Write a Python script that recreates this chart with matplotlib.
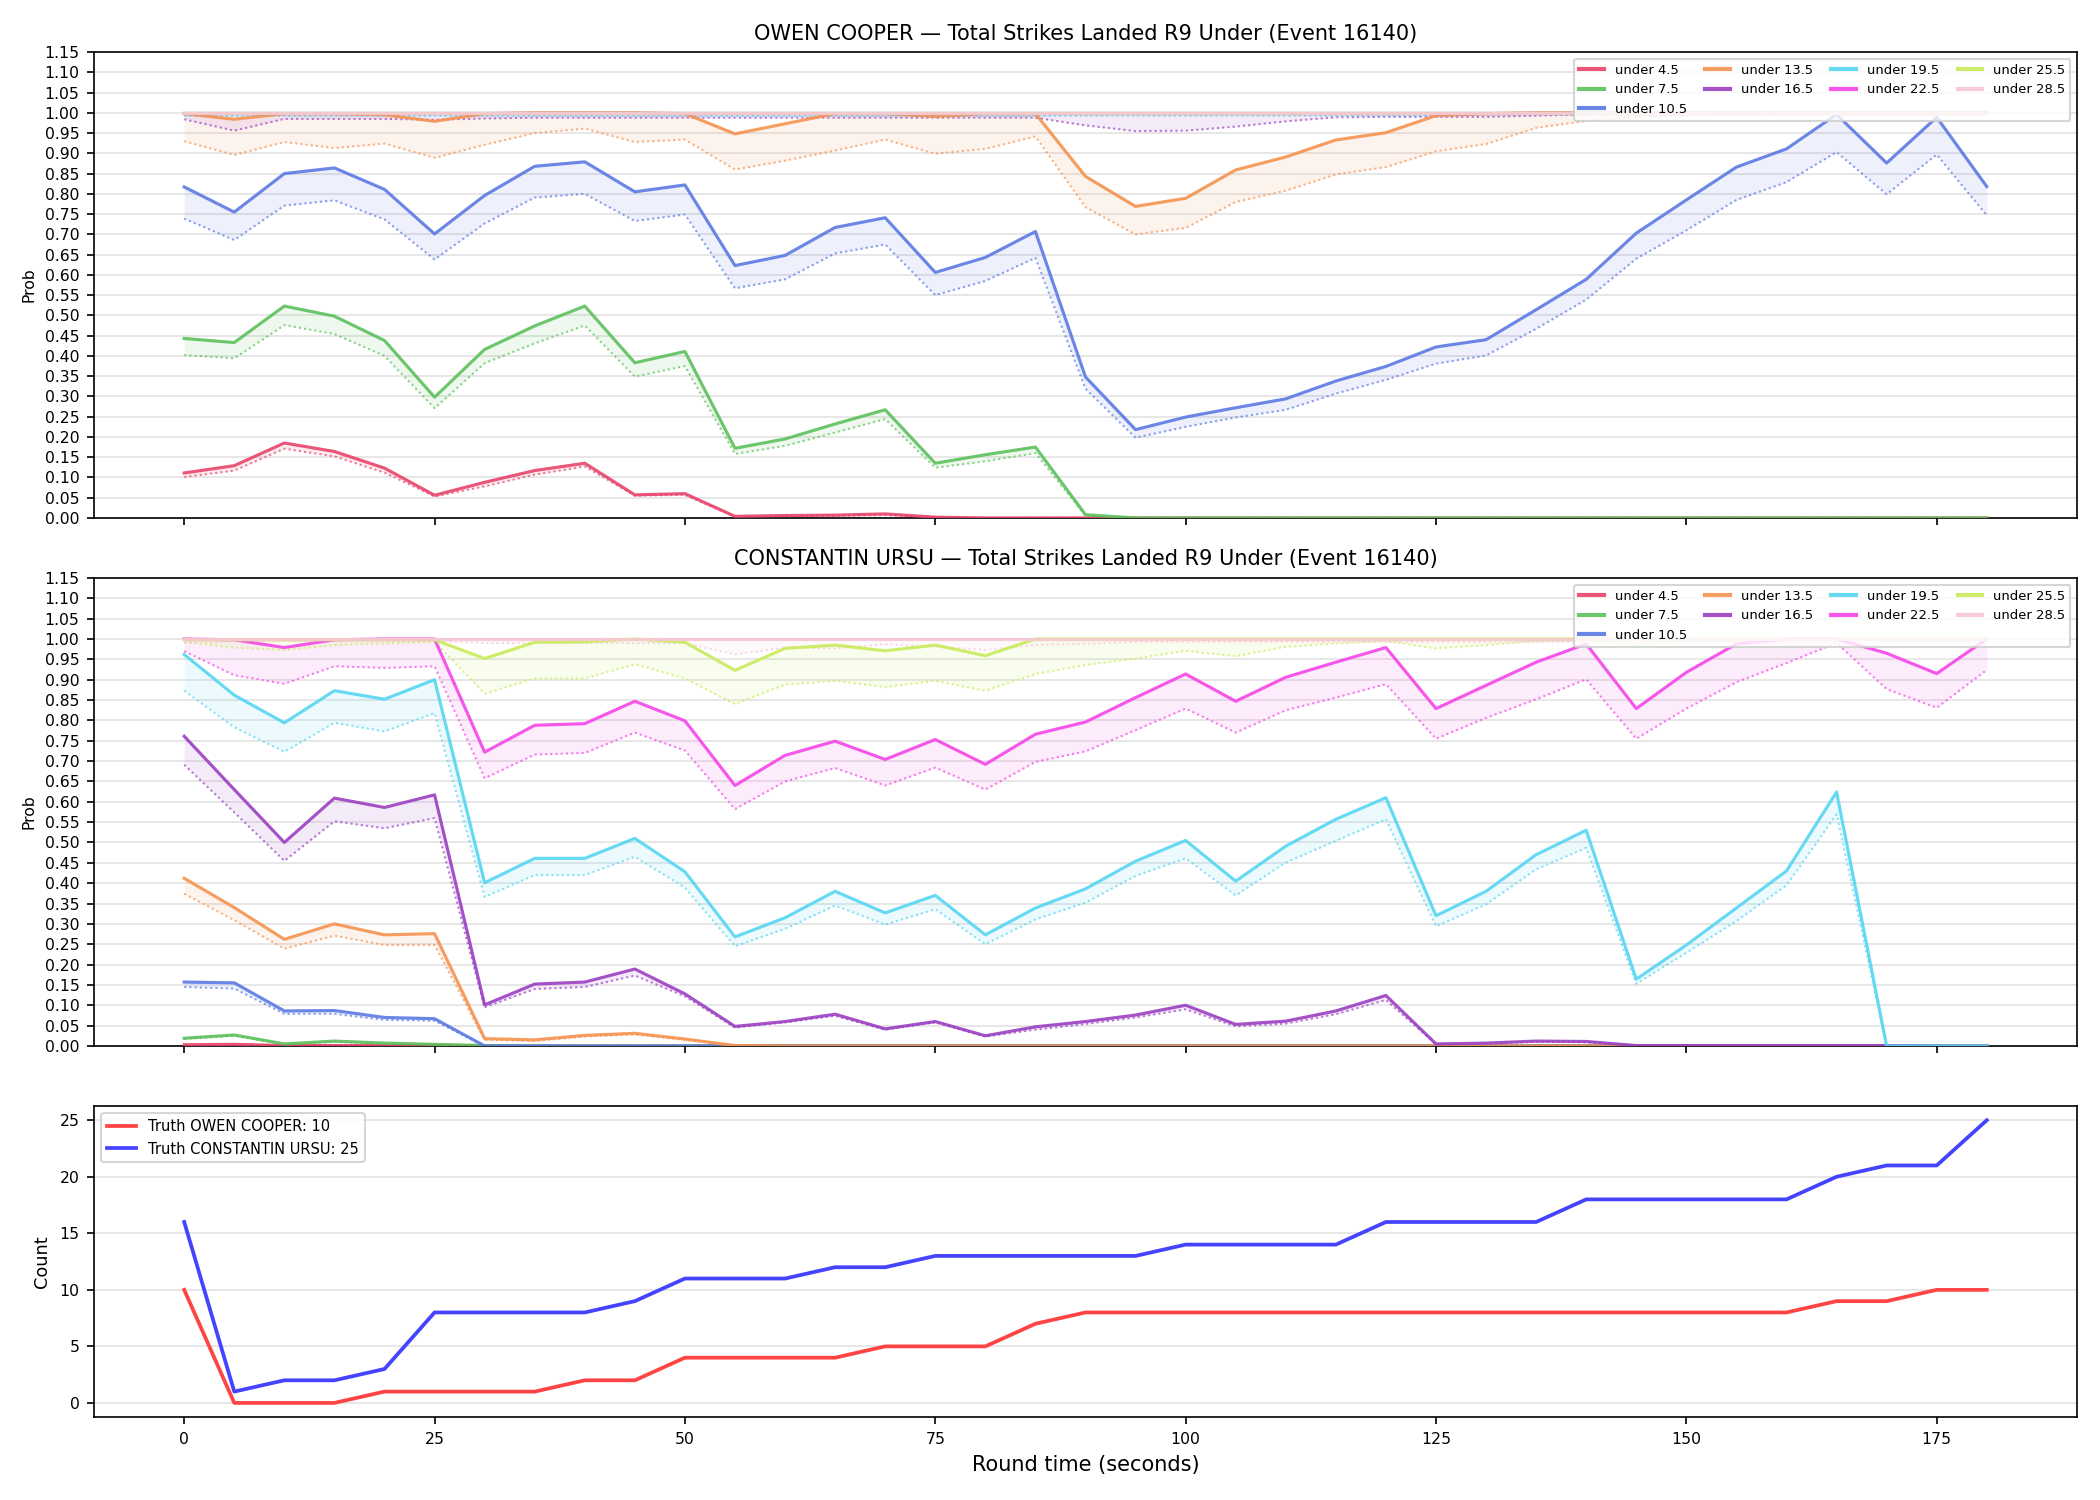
import matplotlib
matplotlib.use("Agg")
import matplotlib.pyplot as plt
import numpy as np

# ---------------- data ----------------
times = list(range(0, 181, 5))
thresholds = ["under 4.5", "under 7.5", "under 10.5", "under 13.5", "under 16.5",
              "under 19.5", "under 22.5", "under 25.5", "under 28.5"]
line_colors = ["#e8436a", "#5cc05c", "#5b79e3", "#f5924f", "#9b3fc2",
               "#55d6f2", "#f545e8", "#c8ec5a", "#f8c6d6"]

Z = [0.0]
# OWEN COOPER: solid (model) and dotted (market)
oc_u45_a = [0.111, 0.129, 0.185, 0.164, 0.123, 0.056, 0.088, 0.117, 0.135, 0.057, 0.060, 0.004, 0.006, 0.007, 0.010, 0.002] + Z * 21
oc_u45_b = [0.101, 0.117, 0.171, 0.152, 0.112, 0.053, 0.078, 0.107, 0.127, 0.055, 0.057, 0.003, 0.004, 0.005, 0.007, 0.001] + Z * 21
oc_u75_a = [0.443, 0.433, 0.523, 0.498, 0.438, 0.298, 0.416, 0.474, 0.523, 0.383, 0.411, 0.172, 0.195, 0.232, 0.267, 0.135, 0.156, 0.175, 0.008] + Z * 18
oc_u75_b = [0.402, 0.394, 0.476, 0.454, 0.400, 0.271, 0.382, 0.431, 0.475, 0.349, 0.375, 0.158, 0.178, 0.211, 0.244, 0.124, 0.140, 0.160, 0.006] + Z * 18
oc_u105_a = [0.817, 0.755, 0.850, 0.864, 0.811, 0.701, 0.796, 0.868, 0.879, 0.805, 0.822, 0.623, 0.648, 0.717, 0.741, 0.606, 0.643, 0.707,
             0.348, 0.218, 0.249, 0.272, 0.294, 0.338, 0.374, 0.422, 0.440, 0.514, 0.589, 0.703, 0.785, 0.866, 0.911, 0.996, 0.876, 0.989, 0.818]
oc_u105_b = [0.739, 0.686, 0.771, 0.784, 0.737, 0.638, 0.727, 0.791, 0.800, 0.733, 0.749, 0.567, 0.589, 0.653, 0.675, 0.550, 0.585, 0.642,
             0.319, 0.198, 0.225, 0.248, 0.267, 0.307, 0.341, 0.381, 0.401, 0.467, 0.539, 0.640, 0.710, 0.785, 0.829, 0.903, 0.799, 0.897, 0.747]
oc_u135_a = [0.998, 0.984, 0.998, 0.998, 0.995, 0.979, 0.998, 1.0, 1.0, 1.0, 0.998, 0.948, 0.973, 0.998, 0.998, 0.991, 0.998, 0.998,
             0.843, 0.769, 0.789, 0.859, 0.891, 0.933, 0.951, 0.993, 0.998, 1.0, 1.0, 1.0, 1.0, 1.0, 1.0, 1.0, 1.0, 1.0, 1.0]
oc_u135_b = [0.930, 0.896, 0.928, 0.913, 0.924, 0.889, 0.921, 0.950, 0.961, 0.928, 0.934, 0.860, 0.882, 0.907, 0.934, 0.899, 0.911, 0.942,
             0.767, 0.700, 0.716, 0.780, 0.808, 0.848, 0.866, 0.905, 0.923, 0.963, 0.980, 0.990, 0.993, 0.995, 0.996, 0.997, 0.997, 0.998, 0.998]
oc_u165_a = [1.0] * 37
oc_u165_b = [0.984, 0.956, 0.985, 0.985, 0.985, 0.983, 0.986, 0.988, 0.988, 0.988, 0.988, 0.988, 0.988, 0.988, 0.988, 0.988, 0.988, 0.988,
             0.969, 0.955, 0.956, 0.966, 0.979, 0.989, 0.990, 0.990, 0.990, 0.993, 0.996, 0.998, 0.999, 0.999, 1.0, 1.0, 1.0, 1.0, 1.0]
oc_u195_a = [1.0] * 37
oc_u195_b = [0.992] * 18 + [0.993] * 8 + [0.996] * 11
oc_u225_a = [1.0] * 37
oc_u225_b = [0.997] * 37
oc_u255_a = [1.0] * 37
oc_u255_b = [0.998] * 37
oc_u285_a = [1.0] * 37
oc_u285_b = [0.999] * 37

# CONSTANTIN URSU
cu_u45_a = [0.003, 0.004, 0.001, 0.001, 0.001, 0.001] + Z * 31
cu_u45_b = [0.002, 0.003, 0.001, 0.001, 0.001, 0.001] + Z * 31
cu_u75_a = [0.019, 0.027, 0.005, 0.012, 0.007, 0.004, 0.001] + Z * 30
cu_u75_b = [0.017, 0.025, 0.004, 0.010, 0.006, 0.003, 0.001] + Z * 30
cu_u105_a = [0.157, 0.155, 0.086, 0.087, 0.070, 0.067, 0.0] + Z * 30
cu_u105_b = [0.145, 0.141, 0.079, 0.079, 0.064, 0.062, 0.0] + Z * 30
cu_u135_a = [0.412, 0.340, 0.262, 0.300, 0.273, 0.276, 0.018, 0.015, 0.026, 0.031, 0.017, 0.001] + Z * 25
cu_u135_b = [0.374, 0.309, 0.239, 0.271, 0.248, 0.248, 0.015, 0.012, 0.023, 0.028, 0.015, 0.001] + Z * 25
cu_u165_a = [0.761, 0.630, 0.500, 0.609, 0.586, 0.617, 0.101, 0.152, 0.157, 0.189, 0.128, 0.048, 0.060, 0.078, 0.042, 0.060, 0.025, 0.047,
             0.060, 0.076, 0.100, 0.053, 0.061, 0.086, 0.124, 0.005, 0.007, 0.012, 0.011, 0.001, 0.001, 0.001, 0.001, 0.001, 0.001, 0.0, 0.0]
cu_u165_b = [0.691, 0.574, 0.455, 0.552, 0.535, 0.560, 0.095, 0.140, 0.145, 0.173, 0.122, 0.045, 0.058, 0.074, 0.040, 0.058, 0.023, 0.040,
             0.054, 0.070, 0.090, 0.048, 0.055, 0.078, 0.113, 0.004, 0.006, 0.010, 0.009, 0.001, 0.001, 0.001, 0.001, 0.001, 0.001, 0.0, 0.0]
cu_u195_a = [0.962, 0.862, 0.794, 0.873, 0.852, 0.900, 0.401, 0.461, 0.461, 0.510, 0.428, 0.268, 0.315, 0.380, 0.327, 0.370, 0.273, 0.339,
             0.386, 0.454, 0.505, 0.405, 0.491, 0.557, 0.610, 0.320, 0.380, 0.470, 0.530, 0.164, 0.248, 0.339, 0.430, 0.624, 0.0, 0.0, 0.0]
cu_u195_b = [0.873, 0.783, 0.723, 0.794, 0.773, 0.818, 0.366, 0.420, 0.420, 0.465, 0.389, 0.245, 0.288, 0.345, 0.298, 0.336, 0.250, 0.311,
             0.352, 0.418, 0.461, 0.370, 0.451, 0.504, 0.557, 0.294, 0.348, 0.434, 0.487, 0.153, 0.229, 0.307, 0.395, 0.569, 0.0, 0.0, 0.0]
cu_u225_a = [1.0, 0.998, 0.979, 0.998, 1.0, 1.0, 0.722, 0.788, 0.792, 0.847, 0.799, 0.640, 0.714, 0.749, 0.704, 0.753, 0.692, 0.766,
             0.796, 0.856, 0.914, 0.847, 0.906, 0.943, 0.979, 0.829, 0.886, 0.943, 0.988, 0.829, 0.918, 0.988, 1.0, 1.0, 0.965, 0.915, 1.0]
cu_u225_b = [0.970, 0.911, 0.890, 0.933, 0.929, 0.933, 0.658, 0.716, 0.720, 0.770, 0.726, 0.582, 0.650, 0.683, 0.640, 0.684, 0.630, 0.698,
             0.724, 0.776, 0.829, 0.770, 0.825, 0.856, 0.889, 0.755, 0.806, 0.852, 0.901, 0.755, 0.829, 0.894, 0.941, 0.990, 0.877, 0.831, 0.924]
cu_u255_a = [0.998, 0.998, 0.998, 0.998, 0.998, 0.998, 0.952, 0.992, 0.993, 1.0, 0.992, 0.923, 0.977, 0.985, 0.971, 0.985, 0.959, 1.0] + [1.0] * 19
cu_u255_b = [0.993, 0.979, 0.973, 0.985, 0.989, 0.993, 0.866, 0.903, 0.903, 0.938, 0.903, 0.840, 0.888, 0.897, 0.882, 0.897, 0.873, 0.914,
             0.936, 0.952, 0.971, 0.958, 0.981, 0.989, 0.995, 0.977, 0.985, 0.995, 0.997, 0.985, 0.995, 0.996, 0.997, 0.998, 0.998, 0.998, 0.998]
cu_u285_a = [1.0] * 37
cu_u285_b = [0.990, 0.995, 0.995, 0.995, 0.995, 0.995, 0.990, 0.990, 0.990, 0.990, 0.990, 0.962, 0.979, 0.977, 0.987, 0.981, 0.973, 0.985,
             0.988] + [0.993] * 18

# Truth counts
truth_oc = [10, 0, 0, 0, 1, 1, 1, 1, 2, 2, 4, 4, 4, 4, 5, 5, 5, 7, 8, 8, 8, 8, 8, 8, 8, 8, 8, 8, 8, 8, 8, 8, 8, 9, 9, 10, 10]
truth_cu = [16, 1, 2, 2, 3, 8, 8, 8, 8, 9, 11, 11, 11, 12, 12, 13, 13, 13, 13, 13, 14, 14, 14, 14, 16, 16, 16, 16, 18, 18, 18, 18, 18, 20, 21, 21, 25]

players = ["OWEN COOPER", "CONSTANTIN URSU"]
oc_series = [(oc_u45_a, oc_u45_b), (oc_u75_a, oc_u75_b), (oc_u105_a, oc_u105_b), (oc_u135_a, oc_u135_b),
             (oc_u165_a, oc_u165_b), (oc_u195_a, oc_u195_b), (oc_u225_a, oc_u225_b), (oc_u255_a, oc_u255_b),
             (oc_u285_a, oc_u285_b)]
cu_series = [(cu_u45_a, cu_u45_b), (cu_u75_a, cu_u75_b), (cu_u105_a, cu_u105_b), (cu_u135_a, cu_u135_b),
             (cu_u165_a, cu_u165_b), (cu_u195_a, cu_u195_b), (cu_u225_a, cu_u225_b), (cu_u255_a, cu_u255_b),
             (cu_u285_a, cu_u285_b)]

# ---------------- plot ----------------
plt.rcParams['font.family'] = ['DejaVu Sans']
fig = plt.figure(figsize=(14, 10), dpi=150)
ax1 = fig.add_axes([0.0448, 0.6547, 0.9442, 0.3106])
ax2 = fig.add_axes([0.0448, 0.3027, 0.9442, 0.3120], sharex=ax1)
ax3 = fig.add_axes([0.0448, 0.0553, 0.9442, 0.2073], sharex=ax1)

t = np.array(times)
for ax, name, series in [(ax1, players[0], oc_series), (ax2, players[1], cu_series)]:
    for lab, col, (a, b) in zip(thresholds, line_colors, series):
        a = np.array(a); b = np.array(b)
        ax.plot(t, a, color=col, lw=1.5, alpha=0.9, label=lab, zorder=3)
        ax.plot(t, b, color=col, lw=1.0, alpha=0.7, ls=(0, (1, 1.5)), zorder=2)
        ax.fill_between(t, a, b, color=col, alpha=0.1, lw=0, zorder=1)
    ax.set_ylim(0, 1.15)
    ax.set_yticks(np.arange(0, 1.151, 0.05))
    ax.set_yticklabels([f"{v:.2f}" for v in np.arange(0, 1.151, 0.05)])
    ax.set_ylabel("Prob", fontsize=7.5)
    ax.set_title(f"{name} — Total Strikes Landed R9 Under (Event 16140)", fontsize=10)
    ax.grid(axis='y', color='#e3e3e3', lw=0.8)
    ax.set_axisbelow(True)
    ax.tick_params(labelsize=7.5)
    ax.tick_params(axis='x', labelbottom=False)
    leg = ax.legend(loc='upper right', ncol=4, fontsize=6.3, framealpha=0.8,
                    columnspacing=1.4, handlelength=1.9)
    for h in leg.get_lines():
        h.set_linewidth(2.0)

ax3.plot(t, truth_oc, color='#ff4444', lw=1.8, label=f"Truth {players[0]}: {truth_oc[-1]}")
ax3.plot(t, truth_cu, color='#4444ff', lw=1.8, label=f"Truth {players[1]}: {truth_cu[-1]}")
ax3.set_ylabel("Count", fontsize=8.5)
ax3.set_xlabel("Round time (seconds)", fontsize=10)
ax3.grid(axis='y', color='#e3e3e3', lw=0.8)
ax3.set_axisbelow(True)
ax3.tick_params(labelsize=7.5)
ax3.legend(loc='upper left', fontsize=7)
ax3.set_xlim(-9, 189)

fig.savefig("out.png", dpi=150)
